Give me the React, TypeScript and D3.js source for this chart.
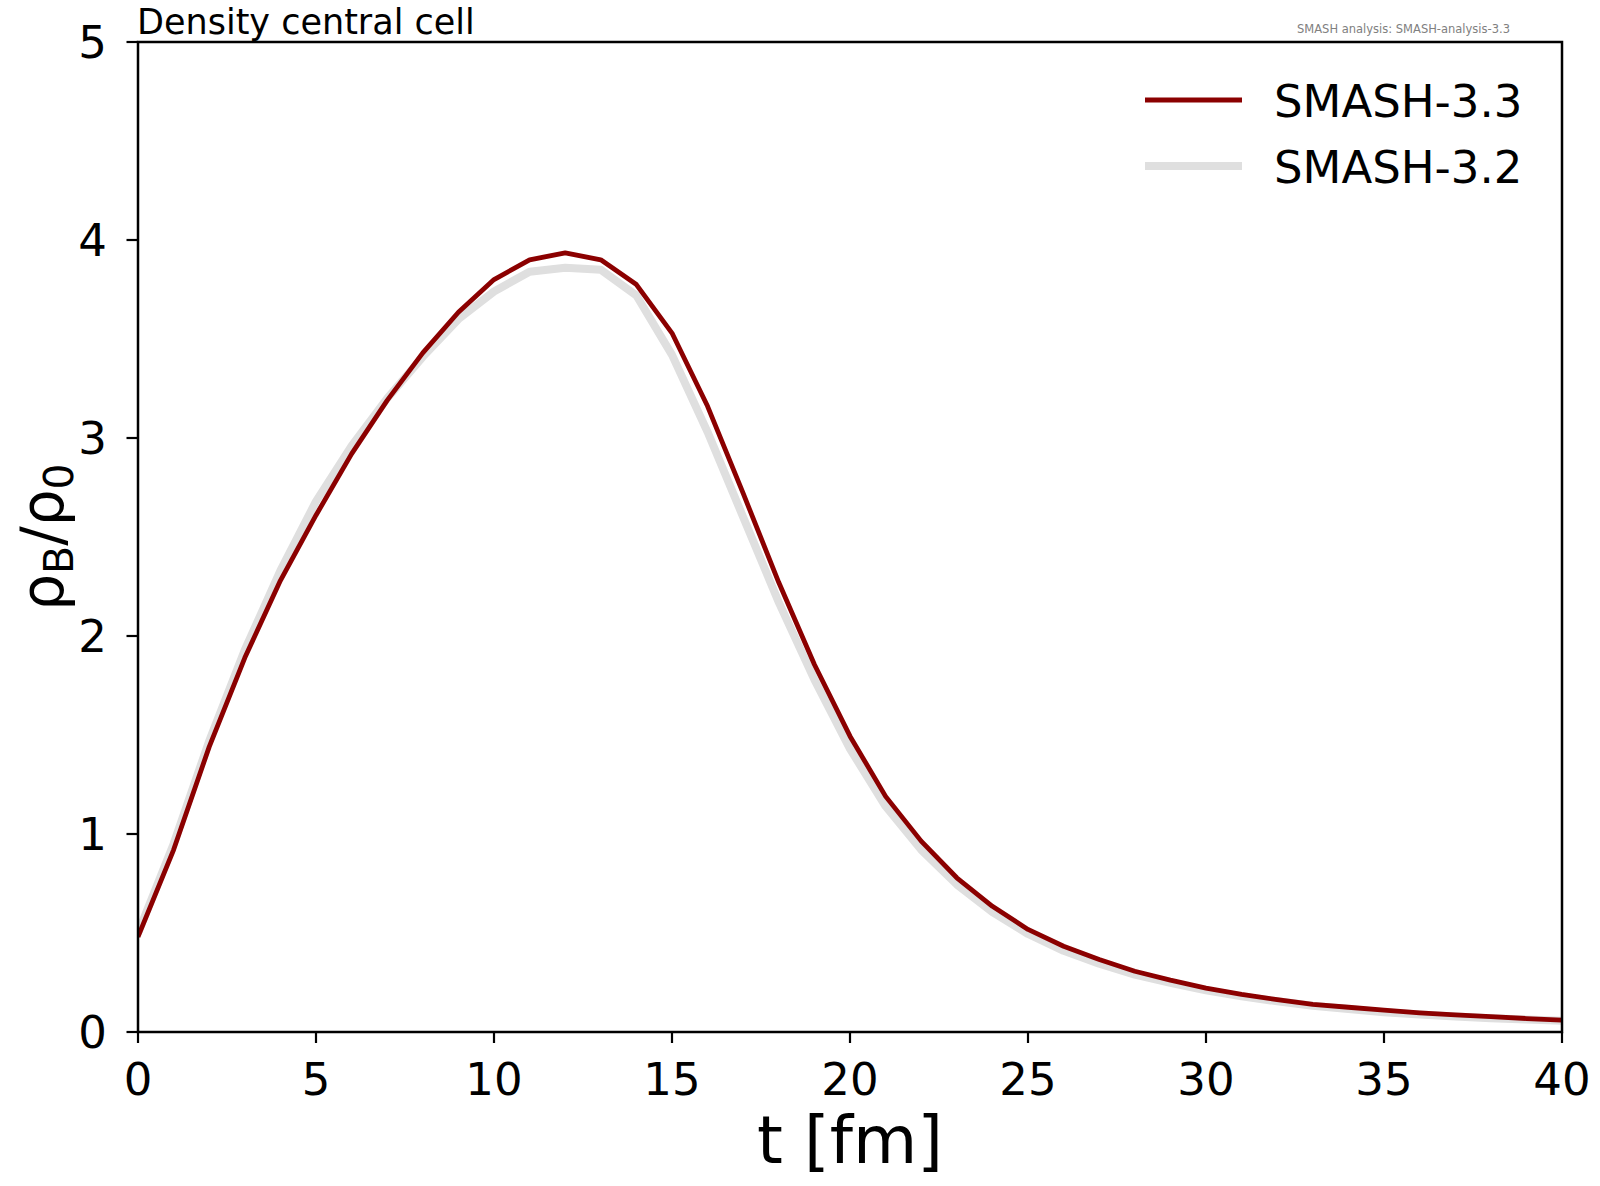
import * as d3 from 'd3';

// time in fm
const times = [0, 1, 2, 3, 4, 5, 6, 7, 8, 9, 10, 11, 12, 13, 14, 15, 16, 17, 18, 19, 20,
  21, 22, 23, 24, 25, 26, 27, 28, 29, 30, 31, 32, 33, 34, 35, 36, 37, 38, 39, 40];

// rho_B / rho_0 in the central cell
const smash33 = [0.48, 0.92, 1.44, 1.89, 2.28, 2.61, 2.92, 3.19, 3.43, 3.635, 3.80, 3.90, 3.935,
  3.90, 3.775, 3.53, 3.16, 2.72, 2.27, 1.856, 1.494, 1.19, 0.964, 0.779, 0.635, 0.518, 0.433,
  0.366, 0.307, 0.262, 0.222, 0.19, 0.163, 0.14, 0.125, 0.11, 0.097, 0.087, 0.078, 0.068, 0.06];
const smash32 = [0.50, 0.95, 1.47, 1.93, 2.33, 2.68, 2.96, 3.20, 3.41, 3.60, 3.74, 3.84, 3.86,
  3.85, 3.72, 3.42, 3.03, 2.60, 2.17, 1.78, 1.43, 1.14, 0.92, 0.745, 0.605, 0.495, 0.41,
  0.345, 0.29, 0.248, 0.21, 0.18, 0.155, 0.133, 0.116, 0.10, 0.088, 0.078, 0.07, 0.063, 0.057];

const xTicks = [0, 5, 10, 15, 20, 25, 30, 35, 40];
const yTicks = [0, 1, 2, 3, 4, 5];

const series = [
  { name: 'SMASH-3.2', values: smash32, color: '#dfdfdf', width: 8 },
  { name: 'SMASH-3.3', values: smash33, color: '#8b0000', width: 4.8 },
];
const legendOrder = ['SMASH-3.3', 'SMASH-3.2'];

const W = 1600;
const H = 1186;
const left = 138, right = 1562, top = 42, bottom = 1032;
const font = '"DejaVu Sans", sans-serif';

export default function App() {
  const x = d3.scaleLinear().domain([0, 40]).range([left, right]);
  const y = d3.scaleLinear().domain([0, 5]).range([bottom, top]);

  const line = (vals: number[]) =>
    d3.line<number>()
      .x((_, i) => x(times[i]))
      .y(d => y(d))(vals) || '';

  return (
    <svg width={W} height={H} style={{ position: 'absolute', left: 0, top: 0, background: '#fff' }}
      fontFamily={font}>
      <defs>
        <clipPath id="plot-clip">
          <rect x={left} y={top} width={right - left} height={bottom - top} />
        </clipPath>
      </defs>
      <rect width={W} height={H} fill="#fff" />

      <g clipPath="url(#plot-clip)">
        {series.map(s => (
          <path key={s.name} d={line(s.values)} fill="none" stroke={s.color}
            strokeWidth={s.width} strokeLinejoin="round" />
        ))}
      </g>

      {/* frame */}
      <rect x={left} y={top} width={right - left} height={bottom - top} fill="none"
        stroke="#000" strokeWidth={2.5} />

      {/* x ticks */}
      {xTicks.map(t => (
        <g key={'x' + t}>
          <line x1={x(t)} x2={x(t)} y1={bottom} y2={bottom + 11} stroke="#000" strokeWidth={2.2} />
          <text x={x(t)} y={1095} fontSize={45} textAnchor="middle">{t}</text>
        </g>
      ))}

      {/* y ticks */}
      {yTicks.map(t => (
        <g key={'y' + t}>
          <line x1={left - 11.5} x2={left} y1={y(t)} y2={y(t)} stroke="#000" strokeWidth={2.2} />
          <text x={107} y={y(t) + 16.4} fontSize={45} textAnchor="end">{t}</text>
        </g>
      ))}

      {/* axis labels */}
      <text x={(left + right) / 2} y={1163} fontSize={66} textAnchor="middle">t [fm]</text>
      <text transform={`translate(63,${(top + bottom) / 2}) rotate(-90)`} fontSize={58}
        textAnchor="middle">
        ρ<tspan fontSize={41} dy={10}>B</tspan><tspan dy={-10}>/ρ</tspan>
        <tspan fontSize={41} dy={10}>0</tspan>
      </text>

      {/* title and tag */}
      <text x={137} y={34} fontSize={35}>Density central cell</text>
      <text x={1510} y={33} fontSize={11.5} fill="#808080" textAnchor="end">
        SMASH analysis: SMASH-analysis-3.3
      </text>

      {/* legend */}
      {legendOrder.map((name, i) => {
        const s = series.find(d => d.name === name)!;
        const ly = 100 + i * 66;
        return (
          <g key={name}>
            <line x1={1145} x2={1242} y1={ly} y2={ly} stroke={s.color} strokeWidth={s.width} />
            <text x={1274} y={ly + 17} fontSize={45}>{name}</text>
          </g>
        );
      })}
    </svg>
  );
}
